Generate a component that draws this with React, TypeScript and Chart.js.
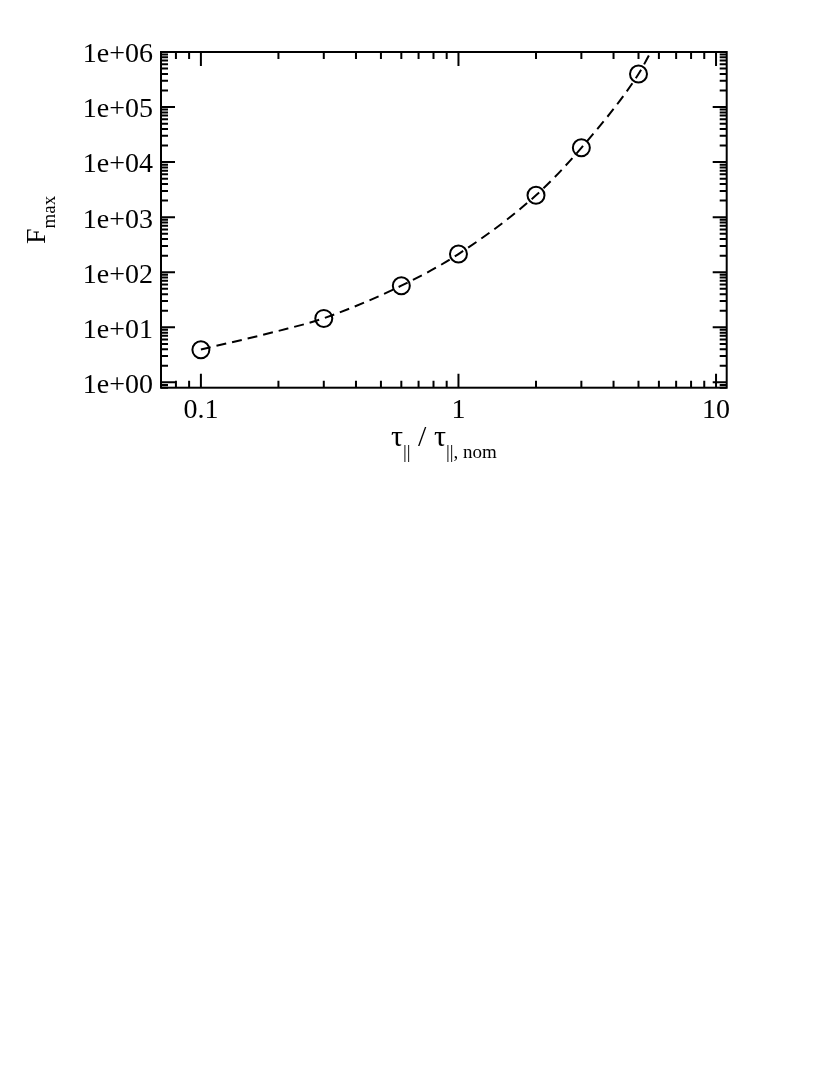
import React, { useEffect, useRef } from 'react';
import { Chart, registerables } from 'chart.js';

Chart.register(...registerables);

// Measured points (tau_par / tau_par,nom  vs  F_max)
const tauValues = [0.1, 0.3, 0.6, 1, 2, 3, 5];
const fmaxValues = [3.9, 14.5, 57, 214, 2500, 18200, 398000];

// Dashed fit curve
const fitTau = [0.1, 0.2, 0.3, 0.6, 1, 2, 3, 5, 5.58];
const fitF = [3.95, 8.6, 14.6, 57, 214, 2500, 18200, 398000, 1000000];

// Axes
const xMin = 0.07;
const xMax = 11;
const yMin = 0.8;
const yMax = 1e6;
const xMajorTicks = [0.1, 1, 10];
const xMajorLabels = ['0.1', '1', '10'];
const yMajorTicks = [1, 10, 100, 1000, 10000, 100000, 1000000];
const yMajorLabels = ['1e+00', '1e+01', '1e+02', '1e+03', '1e+04', '1e+05', '1e+06'];

const SERIF = "'Liberation Serif', 'Times New Roman', serif";

function minorTicks(min: number, max: number): number[] {
  const out: number[] = [];
  for (let e = -3; e <= 7; e++) {
    for (let m = 2; m <= 9; m++) {
      const v = m * Math.pow(10, e);
      if (v >= min * 0.9999 && v <= max * 1.0001) out.push(v);
    }
  }
  return out;
}

const framePlugin = {
  id: 'frameTicks',
  afterDatasetsDraw(chart: any) {
    const { ctx, chartArea } = chart;
    const { left, right, top, bottom } = chartArea;
    const xs = chart.scales.x;
    const ys = chart.scales.y;
    const MAJ = 14;
    const MIN = 7;
    ctx.save();
    ctx.strokeStyle = '#000';
    ctx.lineWidth = 2;
    ctx.lineCap = 'butt';
    ctx.beginPath();
    const drawX = (v: number, len: number) => {
      const p = xs.getPixelForValue(v);
      ctx.moveTo(p, bottom);
      ctx.lineTo(p, bottom - len);
      ctx.moveTo(p, top);
      ctx.lineTo(p, top + len);
    };
    const drawY = (v: number, len: number) => {
      const p = ys.getPixelForValue(v);
      ctx.moveTo(left, p);
      ctx.lineTo(left + len, p);
      ctx.moveTo(right, p);
      ctx.lineTo(right - len, p);
    };
    minorTicks(xMin, xMax).forEach((v) => drawX(v, MIN));
    xMajorTicks.forEach((v) => drawX(v, MAJ));
    minorTicks(yMin, yMax).forEach((v) => drawY(v, MIN));
    yMajorTicks.forEach((v) => drawY(v, MAJ));
    ctx.stroke();
    ctx.strokeRect(left, top, right - left, bottom - top);
    ctx.restore();
  },
  afterDraw(chart: any) {
    const { ctx, chartArea } = chart;
    const { left, right, top, bottom } = chartArea;
    ctx.save();
    ctx.fillStyle = '#000';
    ctx.textBaseline = 'alphabetic';
    ctx.textAlign = 'left';
    const big = `30px ${SERIF}`;
    const small = `19px ${SERIF}`;

    // X title: τ|| / τ||, nom
    const xParts: [string, string, number][] = [
      ['τ', big, 0],
      ['||', small, 12],
      [' / τ', big, 0],
      ['||, nom', small, 12],
    ];
    let total = 0;
    xParts.forEach(([t, f]) => {
      ctx.font = f;
      total += ctx.measureText(t).width;
    });
    let x = (left + right) / 2 - total / 2;
    const baseX = bottom + 58;
    xParts.forEach(([t, f, dy]) => {
      ctx.font = f;
      ctx.fillText(t, x, baseX + dy);
      x += ctx.measureText(t).width;
    });

    // Y title: F_max (rotated)
    const yParts: [string, string, number][] = [
      ['F', `28px ${SERIF}`, 0],
      ['max', small, 10],
    ];
    let totalY = 0;
    yParts.forEach(([t, f]) => {
      ctx.font = f;
      totalY += ctx.measureText(t).width;
    });
    ctx.translate(37, (top + bottom) / 2);
    ctx.rotate(-Math.PI / 2);
    let px = -totalY / 2;
    yParts.forEach(([t, f, dy]) => {
      ctx.font = f;
      ctx.fillText(t, px, dy);
      px += ctx.measureText(t).width;
    });
    ctx.restore();
  },
};

export default function App() {
  const canvasRef = useRef<HTMLCanvasElement | null>(null);

  useEffect(() => {
    if (!canvasRef.current) return;
    const tickFont = { family: SERIF, size: 28 };
    const chart = new Chart(canvasRef.current, {
      type: 'scatter',
      data: {
        datasets: [
          {
            type: 'line',
            data: fitTau.map((t, i) => ({ x: t, y: fitF[i] })),
            borderColor: '#000',
            borderWidth: 2,
            borderDash: [10, 6],
            pointRadius: 0,
            fill: false,
            cubicInterpolationMode: 'monotone',
          } as any,
          {
            data: tauValues.map((t, i) => ({ x: t, y: fmaxValues[i] })),
            showLine: false,
            pointStyle: 'circle',
            pointRadius: 8.5,
            pointBorderWidth: 2,
            borderColor: '#000',
            backgroundColor: 'rgba(0,0,0,0)',
            pointBackgroundColor: 'rgba(0,0,0,0)',
            pointBorderColor: '#000',
          } as any,
        ],
      },
      options: {
        animation: false,
        responsive: true,
        maintainAspectRatio: false,
        layout: { padding: { left: 0, top: 44, right: 95.3, bottom: 10.3 } },
        plugins: {
          legend: { display: false },
          tooltip: { enabled: false },
        },
        scales: {
          x: {
            type: 'logarithmic',
            min: xMin,
            max: xMax,
            bounds: 'data',
            border: { display: false },
            grid: { display: false, drawTicks: false },
            afterBuildTicks: (scale: any) => {
              scale.ticks = xMajorTicks.map((v) => ({ value: v }));
            },
            afterFit: (scale: any) => {
              scale.height = 80;
            },
            ticks: {
              autoSkip: false,
              maxRotation: 0,
              padding: 6,
              color: '#000',
              font: tickFont,
              callback: (value: any) => {
                const i = xMajorTicks.findIndex((v) => Math.abs(v - value) < v * 1e-6);
                return i >= 0 ? xMajorLabels[i] : '';
              },
            },
          },
          y: {
            type: 'logarithmic',
            min: yMin,
            max: yMax,
            bounds: 'data',
            border: { display: false },
            grid: { display: false, drawTicks: false },
            afterBuildTicks: (scale: any) => {
              scale.ticks = yMajorTicks.map((v) => ({ value: v }));
            },
            afterFit: (scale: any) => {
              scale.width = 153;
            },
            ticks: {
              autoSkip: false,
              padding: 8,
              labelOffset: 3,
              color: '#000',
              font: tickFont,
              callback: (value: any) => {
                const i = yMajorTicks.findIndex((v) => Math.abs(v - value) < v * 1e-6);
                return i >= 0 ? yMajorLabels[i] : '';
              },
            },
          },
        },
      },
      plugins: [framePlugin],
    } as any);
    return () => chart.destroy();
  }, []);

  return (
    <div style={{ width: 814, height: 470, position: 'relative' }}>
      <canvas ref={canvasRef} />
    </div>
  );
}
